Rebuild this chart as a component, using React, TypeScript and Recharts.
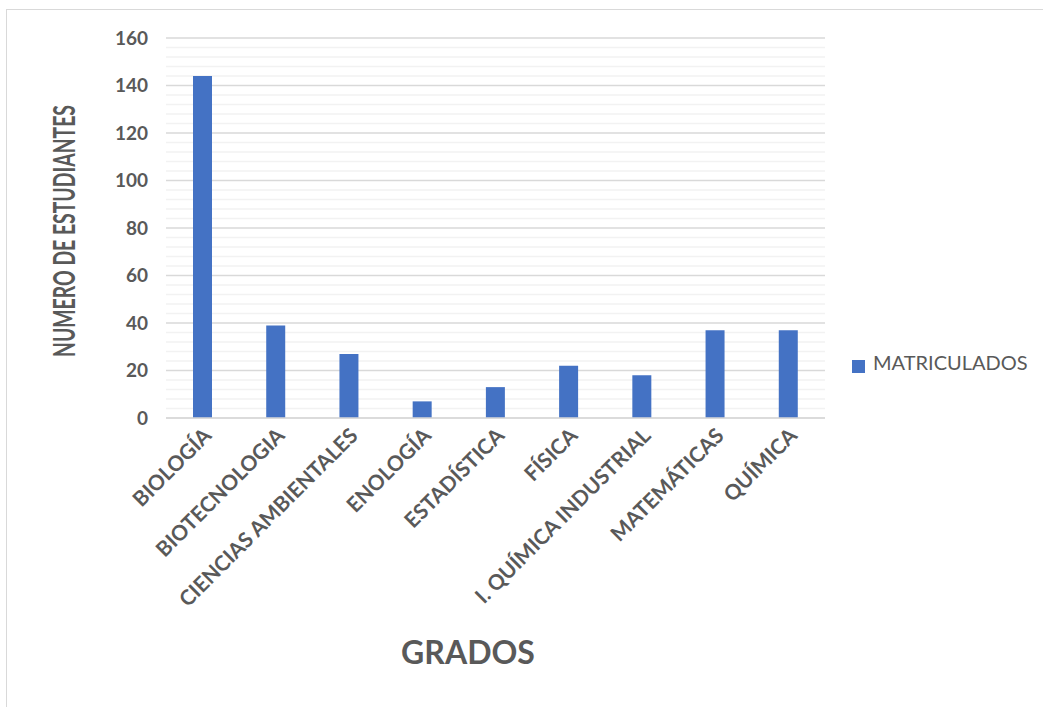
import { Bar, BarChart, CartesianGrid, Legend, XAxis, YAxis } from 'recharts'

const grados = [
  'BIOLOGÍA',
  'BIOTECNOLOGIA',
  'CIENCIAS AMBIENTALES',
  'ENOLOGÍA',
  'ESTADÍSTICA',
  'FÍSICA',
  'I. QUÍMICA INDUSTRIAL',
  'MATEMÁTICAS',
  'QUÍMICA',
]
const matriculados = [144, 39, 27, 7, 13, 22, 18, 37, 37]
const majorTicks = [0, 20, 40, 60, 80, 100, 120, 140, 160]
const minorTicks = [4, 8, 12, 16, 24, 28, 32, 36, 44, 48, 52, 56, 64, 68, 72, 76, 84, 88, 92, 96, 104, 108, 112, 116, 124, 128, 132, 136, 144, 148, 152, 156]

const data = grados.map((g, i) => ({ grado: g, matriculados: matriculados[i] }))

const textColor = '#595959'
const font = 'Lato, Carlito, sans-serif'

function XTick(props: any) {
  const { x, y, payload } = props
  return (
    <g transform={`translate(${x + 4},${y + 5})`}>
      <text
        transform="rotate(-45)"
        textAnchor="end"
        dominantBaseline="central"
        fill={textColor}
        fontSize={21}
        fontWeight={700}
        fontFamily={font}
      >
        {payload.value}
      </text>
    </g>
  )
}

// minor gridlines every 4 students, placed with the y scale
const minorLines = ({ yAxis, offset }: any) =>
  minorTicks.map((t) =>
    yAxis && typeof yAxis.scale === 'function'
      ? yAxis.scale(t)
      : offset.top + offset.height * (1 - t / 160)
  )

export default function App() {
  return (
    <div style={{ position: 'absolute', left: 0, top: 0, width: 1043, height: 707, background: '#fff', overflow: 'hidden' }}>
      <div style={{ position: 'absolute', left: 6, top: 9, width: 1100, height: 760, border: '1px solid #d9d9d9' }} />
      <BarChart
        width={1043}
        height={707}
        data={data}
        margin={{ top: 38, right: 218, left: 106, bottom: 259 }}
        barCategoryGap="0%"
      >
        <CartesianGrid vertical={false} stroke="#f2f2f2" strokeWidth={1.5} horizontalCoordinatesGenerator={minorLines} />
        <CartesianGrid vertical={false} stroke="#d9d9d9" strokeWidth={1.5} />
        <XAxis
          dataKey="grado"
          height={30}
          interval={0}
          tickLine={false}
          axisLine={{ stroke: '#d9d9d9', strokeWidth: 1.5 }}
          tick={<XTick />}
          label={{
            content: () => (
              <text x={468} y={651} textAnchor="middle" dominantBaseline="central" fill={textColor} fontSize={32} fontWeight={700} fontFamily={font}>
                GRADOS
              </text>
            ),
          }}
        />
        <YAxis
          width={60}
          domain={[0, 160]}
          ticks={majorTicks}
          tickLine={false}
          axisLine={false}
          tickMargin={12}
          tick={{ fill: textColor, fontSize: 19, fontWeight: 700, fontFamily: font }}
          label={{
            content: () => (
              <text
                x={63}
                y={231}
                transform="rotate(-90 63 231)"
                textAnchor="middle"
                dominantBaseline="central"
                fill={textColor}
                fontSize={30}
                fontWeight={700}
                fontFamily={font}
                textLength={252}
                lengthAdjust="spacingAndGlyphs"
              >
                NUMERO DE ESTUDIANTES
              </text>
            ),
          }}
        />
        <Legend
          layout="vertical"
          verticalAlign="middle"
          align="center"
          iconType="square"
          iconSize={13}
          wrapperStyle={{ left: 852, top: 350, width: 190, whiteSpace: 'nowrap', textAlign: 'left' }}
          formatter={(value) => (
            <span style={{ color: textColor, fontSize: 20, fontFamily: font, marginLeft: 4 }}>{value}</span>
          )}
        />
        <Bar dataKey="matriculados" name="MATRICULADOS" fill="#4472C4" barSize={19} isAnimationActive={false} />
      </BarChart>
    </div>
  )
}
